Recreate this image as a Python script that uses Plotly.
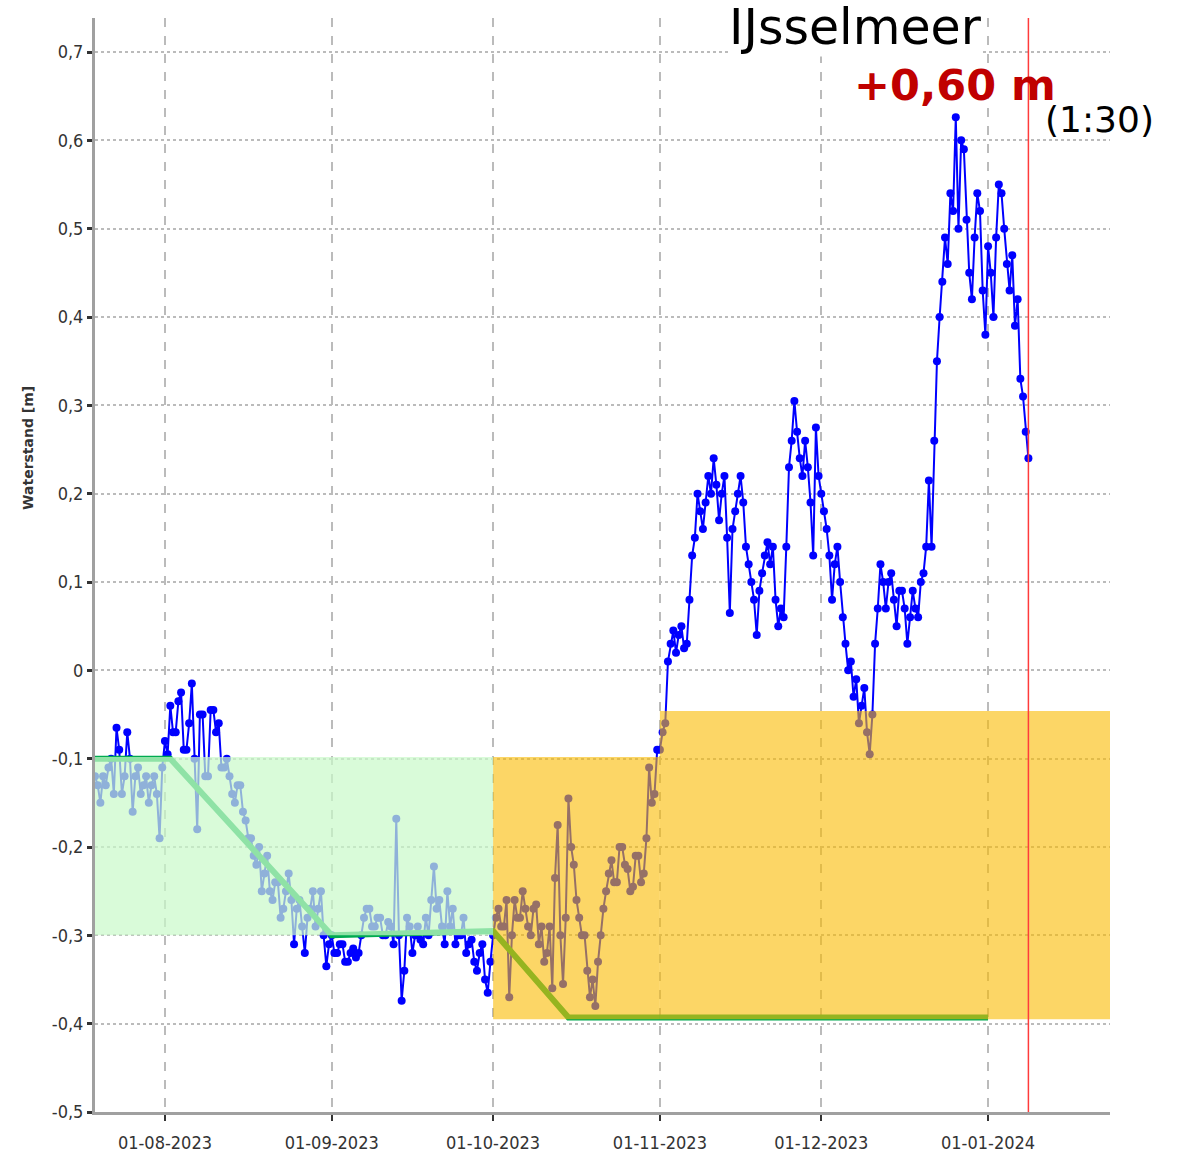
import pandas as pd
import plotly.graph_objects as go

# Water level IJsselmeer (m), two readings per day (00:00 and 12:00)
jul = [-0.12, -0.13, -0.15, -0.12, -0.13, -0.11, -0.10, -0.14, -0.065, -0.09,
       -0.14, -0.12, -0.07, -0.10, -0.16, -0.12, -0.11, -0.14, -0.13, -0.12,
       -0.15, -0.13, -0.12, -0.14, -0.19, -0.11]
aug = [-0.08, -0.095, -0.04, -0.07, -0.07, -0.035, -0.025, -0.09, -0.09, -0.06,
       -0.015, -0.10, -0.18, -0.05, -0.05, -0.12, -0.12, -0.045, -0.045, -0.07,
       -0.06, -0.11, -0.11, -0.10, -0.12, -0.14, -0.15, -0.13, -0.13, -0.16,
       -0.17, -0.19, -0.19, -0.21, -0.22, -0.20, -0.25, -0.23, -0.21, -0.25,
       -0.26, -0.24, -0.24, -0.28, -0.27, -0.25, -0.23, -0.26, -0.31, -0.27,
       -0.26, -0.29, -0.32, -0.28, -0.27, -0.25, -0.29, -0.27, -0.25, -0.30,
       -0.335, -0.31]
sep = [-0.30, -0.32, -0.32, -0.31, -0.31, -0.33, -0.33, -0.32, -0.315, -0.325,
       -0.32, -0.30, -0.28, -0.27, -0.27, -0.29, -0.29, -0.28, -0.28, -0.30,
       -0.30, -0.285, -0.29, -0.31, -0.168, -0.30, -0.374, -0.34, -0.28, -0.29,
       -0.32, -0.30, -0.29, -0.305, -0.31, -0.28, -0.30, -0.26, -0.222, -0.27,
       -0.26, -0.29, -0.31, -0.25, -0.29, -0.27, -0.31, -0.30, -0.30, -0.28,
       -0.32, -0.31, -0.305, -0.33, -0.34, -0.32, -0.31, -0.35, -0.365, -0.33]
oct = [-0.30, -0.28, -0.27, -0.29, -0.29, -0.26, -0.37, -0.30, -0.26, -0.28,
       -0.28, -0.25, -0.27, -0.29, -0.30, -0.27, -0.265, -0.31, -0.29, -0.33,
       -0.32, -0.29, -0.36, -0.235, -0.175, -0.30, -0.355, -0.28, -0.145, -0.20,
       -0.22, -0.26, -0.28, -0.30, -0.30, -0.34, -0.37, -0.35, -0.38, -0.33,
       -0.30, -0.27, -0.25, -0.23, -0.215, -0.24, -0.24, -0.20, -0.20, -0.22,
       -0.225, -0.25, -0.245, -0.21, -0.21, -0.24, -0.23, -0.19, -0.11, -0.15,
       -0.14, -0.09]
nov = [-0.09, -0.07, -0.06, 0.01, 0.03, 0.045, 0.02, 0.04, 0.05, 0.025,
       0.03, 0.08, 0.13, 0.15, 0.20, 0.18, 0.16, 0.19, 0.22, 0.20,
       0.24, 0.21, 0.17, 0.20, 0.22, 0.15, 0.065, 0.16, 0.18, 0.20,
       0.22, 0.19, 0.14, 0.12, 0.10, 0.08, 0.04, 0.09, 0.11, 0.13,
       0.145, 0.12, 0.14, 0.08, 0.05, 0.07, 0.06, 0.14, 0.23, 0.26,
       0.305, 0.27, 0.24, 0.22, 0.26, 0.23, 0.19, 0.13, 0.275, 0.22]
dec = [0.20, 0.18, 0.16, 0.13, 0.08, 0.12, 0.14, 0.10, 0.06, 0.03,
       0.00, 0.01, -0.03, -0.01, -0.06, -0.04, -0.02, -0.07, -0.095, -0.05,
       0.03, 0.07, 0.12, 0.10, 0.07, 0.10, 0.11, 0.08, 0.05, 0.09,
       0.09, 0.07, 0.03, 0.06, 0.09, 0.07, 0.06, 0.10, 0.11, 0.14,
       0.215, 0.14, 0.26, 0.35, 0.40, 0.44, 0.49, 0.46, 0.54, 0.52,
       0.626, 0.50, 0.60, 0.59, 0.51, 0.45, 0.42, 0.49, 0.54, 0.52,
       0.43, 0.38]
jan = [0.48, 0.45, 0.40, 0.49, 0.55, 0.54, 0.50, 0.46, 0.43, 0.47,
       0.39, 0.42, 0.33, 0.31, 0.27, 0.24]

water_level = jul + aug + sep + oct + nov + dec + jan
dates = pd.date_range("2023-07-19", periods=len(water_level), freq="12h")

# Target level (streefpeil)
target_dates = ["2023-07-18", "2023-08-02", "2023-09-01", "2023-10-01", "2023-10-15", "2024-01-01"]
target_level = [-0.10, -0.10, -0.30, -0.295, -0.393, -0.393]

# Bandwidth areas: (start, end, top, bottom)
summer_band = ("2023-07-18", "2023-10-01", -0.098, -0.30)
winter_band_1 = ("2023-10-01", "2023-11-01", -0.098, -0.395)
winter_band_2 = ("2023-11-01", "2024-01-23 16:00", -0.046, -0.395)

now_date = "2024-01-08 12:00"

x_ticks = ["2023-08-01", "2023-09-01", "2023-10-01", "2023-11-01", "2023-12-01", "2024-01-01"]
x_tick_labels = ["01-08-2023", "01-09-2023", "01-10-2023", "01-11-2023", "01-12-2023", "01-01-2024"]
y_ticks = [-0.5, -0.4, -0.3, -0.2, -0.1, 0, 0.1, 0.2, 0.3, 0.4, 0.5, 0.6, 0.7]
y_tick_labels = ["-0,5", "-0,4", "-0,3", "-0,2", "-0,1", "0", "0,1", "0,2", "0,3", "0,4", "0,5", "0,6", "0,7"]

tick_font = dict(family="DejaVu Sans Condensed, Liberation Sans, sans-serif",
                 size=18, color="#333333")

fig = go.Figure()

fig.add_trace(go.Scatter(
    x=dates, y=water_level,
    mode="lines+markers",
    line=dict(color="rgb(0,0,255)", width=2),
    marker=dict(color="rgb(0,0,255)", size=8, symbol="circle"),
    showlegend=False,
))

fig.add_trace(go.Scatter(
    x=target_dates, y=target_level,
    mode="lines",
    line=dict(color="#00AA50", width=6),
    showlegend=False,
))

# bands on top of the data (semi transparent)
fig.add_shape(type="rect", xref="x", yref="y", layer="above",
              x0=summer_band[0], x1=summer_band[1], y0=summer_band[3], y1=summer_band[2],
              fillcolor="rgba(201,249,201,0.71)", line=dict(width=0))
for band in [winter_band_1, winter_band_2]:
    fig.add_shape(type="rect", xref="x", yref="y", layer="above",
                  x0=band[0], x1=band[1], y0=band[3], y1=band[2],
                  fillcolor="rgba(250,187,0,0.6)", line=dict(width=0))

fig.add_shape(type="line", xref="x", yref="paper", layer="above",
              x0=now_date, x1=now_date, y0=0, y1=1,
              line=dict(color="#FF3B3B", width=1.5))

fig.add_annotation(text="IJsselmeer", xref="paper", yref="paper",
                   x=0.749, y=0.991, xanchor="center", yanchor="middle",
                   showarrow=False, bgcolor="white", borderpad=0,
                   font=dict(family="DejaVu Sans", size=49, color="black"))
fig.add_annotation(text="<b>+0,60 m</b>", xref="paper", yref="paper",
                   x=0.847, y=0.939, xanchor="center", yanchor="middle",
                   showarrow=False,
                   font=dict(family="DejaVu Sans", size=43, color="#C00000"))
fig.add_annotation(text="(1:30)", xref="paper", yref="paper",
                   x=0.990, y=0.907, xanchor="center", yanchor="middle",
                   showarrow=False,
                   font=dict(family="DejaVu Sans", size=36, color="black"))
fig.add_annotation(text="<b>Waterstand [m]</b>", xref="paper", yref="paper",
                   x=-0.066, y=0.607, xanchor="center", yanchor="middle",
                   textangle=-90, showarrow=False,
                   font=dict(family="DejaVu Sans", size=14, color="#333333"))

fig.update_layout(
    width=1191, height=1155,
    margin=dict(l=95, r=81, t=18, b=43),
    plot_bgcolor="white", paper_bgcolor="white",
    xaxis=dict(
        range=["2023-07-19", "2024-01-23 16:00"],
        tickvals=x_ticks, ticktext=x_tick_labels,
        tickfont=tick_font, ticklabelstandoff=6, automargin=False,
        showgrid=True, gridcolor="#BBBBBB", gridwidth=1.5, griddash="dash",
        showline=True, linecolor="#A0A0A0", linewidth=3,
        ticks="outside", ticklen=6, tickwidth=2, tickcolor="#333333",
        zeroline=False,
    ),
    yaxis=dict(
        range=[-0.5, 0.7385],
        tickvals=y_ticks, ticktext=y_tick_labels,
        tickfont=tick_font, automargin=False,
        showgrid=True, gridcolor="#BBBBBB", gridwidth=2, griddash="dot",
        showline=True, linecolor="#A0A0A0", linewidth=3,
        ticks="outside", ticklen=5, tickwidth=3, tickcolor="#333333",
        zeroline=False,
    ),
)

fig.write_html("out.html", config={"displayModeBar": False},
               post_script="document.body.style.margin='0px';")
